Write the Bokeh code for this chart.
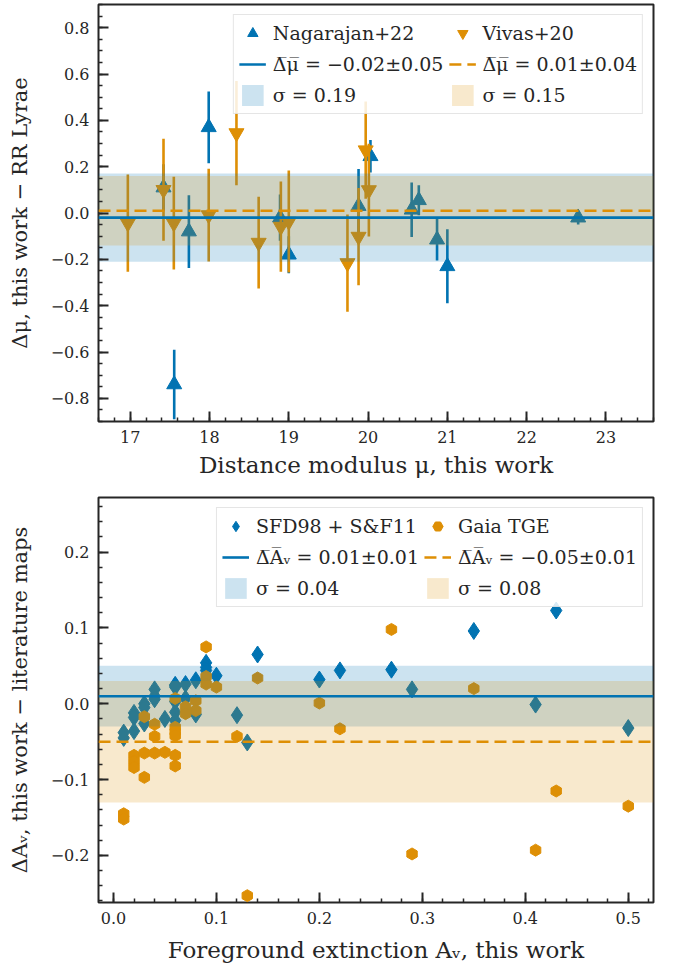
import numpy as np
from bokeh.plotting import figure
from bokeh.layouts import column
from bokeh.models import (Legend, LegendItem, SingleIntervalTicker,
                          CustomJSTickFormatter, Range1d)
from bokeh.embed import file_html
from bokeh.resources import INLINE

BLUE = "#0173b2"
ORANGE = "#de8f05"
INK = "#262626"
FONT = "DejaVu Serif"

# ---- distance-modulus comparison with RR Lyrae studies ----
nag_mu = [17.42, 17.555, 17.74, 17.99, 18.89, 19.00, 19.88, 20.03, 20.55, 20.64, 20.87, 21.00, 22.65]
nag_dmu = [0.11, -0.74, -0.08, 0.37, -0.02, -0.18, 0.03, 0.245, 0.014, 0.055, -0.115, -0.23, -0.02]
nag_err = [0.10, 0.15, 0.157, 0.155, 0.10, 0.08, 0.16, 0.07, 0.118, 0.065, 0.09, 0.16, 0.03]

viv_mu = [16.97, 17.42, 17.55, 17.99, 18.34, 18.62, 18.90, 19.00, 19.74, 19.88, 19.97, 20.01]
viv_dmu = [-0.044, 0.10, -0.044, -0.009, 0.345, -0.128, -0.059, -0.037, -0.216, -0.102, 0.271, 0.099]
viv_err = [0.21, 0.22, 0.20, 0.20, 0.225, 0.198, 0.195, 0.22, 0.21, 0.21, 0.21, 0.20]

nag_mean, nag_mean_err, nag_sigma = -0.02, 0.05, 0.19
viv_mean, viv_mean_err, viv_sigma = 0.01, 0.04, 0.15

MU_RANGE = (16.6, 23.6)
DMU_RANGE = (-0.9, 0.9)

# ---- foreground extinction comparison with dust maps ----
av = [0.01, 0.01, 0.02, 0.02, 0.02, 0.03, 0.03, 0.03, 0.04, 0.04, 0.04, 0.05,
      0.06, 0.06, 0.06, 0.06, 0.06, 0.06, 0.07, 0.07, 0.08, 0.08, 0.09, 0.09, 0.09,
      0.10, 0.12, 0.13, 0.14, 0.20, 0.22, 0.27, 0.29, 0.35, 0.41, 0.43, 0.50]
d_sfd = [-0.038, -0.045, -0.012, -0.018, -0.036, 0.000, -0.005, -0.026, 0.019, 0.010, 0.006, -0.020,
         0.025, 0.022, 0.003, -0.011, -0.022, 0.024, 0.026, 0.007, 0.031, -0.014, 0.054, 0.048, 0.044,
         0.037, -0.015, -0.051, 0.065, 0.032, 0.044, 0.045, 0.019, 0.096, -0.001, 0.123, -0.032]
d_gaia = [-0.145, -0.152, -0.068, -0.076, -0.084, -0.017, -0.065, -0.097, -0.027, -0.043, -0.065, -0.064,
          0.007, -0.031, -0.037, -0.042, -0.068, -0.082, -0.004, -0.013, 0.004, -0.009, 0.075, 0.036, 0.026,
          0.022, -0.043, -0.253, 0.034, 0.001, -0.033, 0.098, -0.198, 0.020, -0.193, -0.115, -0.135]

sfd_mean, sfd_mean_err, sfd_sigma = 0.01, 0.01, 0.04
gaia_mean, gaia_mean_err, gaia_sigma = -0.05, 0.01, 0.08

AV_RANGE = (-0.0145, 0.5245)
DAV_RANGE = (-0.262, 0.272)


def fmt(x, nd=2):
    s = f"{abs(x):.{nd}f}"
    return ("\u2212" + s) if x < 0 else s


def tick_formatter(digits):
    return CustomJSTickFormatter(code=f"""
        const v = Math.abs(tick) < 1e-9 ? 0 : tick;
        const s = Math.abs(v).toFixed({digits});
        return (v < 0 ? '\\u2212' : '') + s;
    """)


def style(p, xint, xminor, xdig, yint, yminor, ydig, xlabel, ylabel):
    p.xaxis.ticker = SingleIntervalTicker(interval=xint, num_minor_ticks=xminor)
    p.yaxis.ticker = SingleIntervalTicker(interval=yint, num_minor_ticks=yminor)
    p.xaxis.formatter = tick_formatter(xdig)
    p.yaxis.formatter = tick_formatter(ydig)
    p.xaxis.axis_label = xlabel
    p.yaxis.axis_label = ylabel
    for ax in (p.xaxis[0], p.yaxis[0]):
        ax.major_tick_in = 10
        ax.major_tick_out = 0
        ax.minor_tick_in = 4
        ax.minor_tick_out = 0
        ax.major_tick_line_width = 2
        ax.minor_tick_line_width = 1.5
        ax.major_tick_line_color = INK
        ax.minor_tick_line_color = INK
        ax.axis_line_color = None
        ax.major_label_text_font = FONT
        ax.major_label_text_font_size = "16px"
        ax.major_label_text_color = INK
        ax.axis_label_text_font = FONT
        ax.axis_label_text_font_style = "normal"
        ax.axis_label_text_color = INK
        ax.major_label_standoff = 9
    p.xaxis.axis_label_text_font_size = "23px"
    p.yaxis.axis_label_text_font_size = "21px"
    p.xaxis.axis_label_standoff = 6
    p.yaxis.axis_label_standoff = 16
    p.xgrid.visible = False
    p.ygrid.visible = False
    p.outline_line_color = INK
    p.outline_line_width = 2
    p.outline_line_alpha = 1.0
    p.background_fill_color = "white"
    p.border_fill_color = "white"


def band(p, xr, mean, sigma, color):
    return p.varea(x=list(xr), y1=[mean - sigma] * 2, y2=[mean + sigma] * 2,
                   fill_color=color, fill_alpha=0.2)


def add_legend(p, items):
    leg = Legend(items=items, location="top_right", orientation="vertical", ncols=2)
    leg.label_text_font = FONT
    leg.label_text_font_size = "19px"
    leg.label_text_color = INK
    leg.glyph_width = 27
    leg.glyph_height = 26
    leg.label_standoff = 7
    leg.spacing = 5
    leg.padding = 5
    leg.margin = 10
    leg.border_line_color = "#cccccc"
    leg.border_line_width = 1.5
    leg.background_fill_alpha = 0.85
    p.add_layout(leg)


# ================= top panel =================
p1 = figure(frame_width=555, frame_height=417, min_border_left=98, min_border_right=20,
            min_border_top=4, min_border_bottom=60,
            x_range=Range1d(*MU_RANGE), y_range=Range1d(*DMU_RANGE),
            output_backend="svg", toolbar_location=None)
style(p1, 1, 5, 0, 0.2, 4, 1, "Distance modulus \u03bc, this work",
      "\u0394\u03bc, this work \u2212 RR Lyrae")

n_lo = [y - e for y, e in zip(nag_dmu, nag_err)]
n_hi = [y + e for y, e in zip(nag_dmu, nag_err)]
v_lo = [y - e for y, e in zip(viv_dmu, viv_err)]
v_hi = [y + e for y, e in zip(viv_dmu, viv_err)]

p1.segment(x0=nag_mu, y0=n_lo, x1=nag_mu, y1=n_hi, line_color=BLUE, line_width=2.6)
r_nag = p1.scatter(nag_mu, nag_dmu, marker="triangle", size=15,
                   fill_color=BLUE, line_color=BLUE)
p1.segment(x0=viv_mu, y0=v_lo, x1=viv_mu, y1=v_hi, line_color=ORANGE, line_width=2.6)
r_viv = p1.scatter(viv_mu, viv_dmu, marker="inverted_triangle", size=15,
                   fill_color=ORANGE, line_color=ORANGE)

b_nag = band(p1, MU_RANGE, nag_mean, nag_sigma, BLUE)
b_viv = band(p1, MU_RANGE, viv_mean, viv_sigma, ORANGE)
l_nag = p1.line(list(MU_RANGE), [nag_mean] * 2, line_color=BLUE, line_width=2.6)
l_viv = p1.line(list(MU_RANGE), [viv_mean] * 2, line_color=ORANGE, line_width=2.6,
                line_dash="12 6")

bar = "\u0305"
add_legend(p1, [
    LegendItem(label="Nagarajan+22", renderers=[r_nag]),
    LegendItem(label=f"\u0394{bar}\u03bc{bar} = {fmt(nag_mean)}\u00b1{fmt(nag_mean_err)}", renderers=[l_nag]),
    LegendItem(label=f"\u03c3 = {fmt(nag_sigma)}", renderers=[b_nag]),
    LegendItem(label="Vivas+20", renderers=[r_viv]),
    LegendItem(label=f"\u0394{bar}\u03bc{bar} = {fmt(viv_mean)}\u00b1{fmt(viv_mean_err)}", renderers=[l_viv]),
    LegendItem(label=f"\u03c3 = {fmt(viv_sigma)}", renderers=[b_viv]),
])

# ================= bottom panel =================
p2 = figure(frame_width=555, frame_height=405, min_border_left=98, min_border_right=20,
            min_border_top=16, min_border_bottom=71,
            x_range=Range1d(*AV_RANGE), y_range=Range1d(*DAV_RANGE),
            output_backend="svg", toolbar_location=None)
style(p2, 0.1, 5, 1, 0.1, 5, 1, "Foreground extinction A\u1d65, this work",
      "\u0394A\u1d65, this work \u2212 literature maps")
p2.xaxis.axis_label_standoff = 10

r_sfd = p2.scatter(av, d_sfd, marker="diamond", size=17, fill_color=BLUE, line_color=BLUE)
r_gaia = p2.scatter(av, d_gaia, marker="hex", size=12, angle=np.pi / 6,
                    fill_color=ORANGE, line_color=ORANGE)

b_sfd = band(p2, AV_RANGE, sfd_mean, sfd_sigma, BLUE)
b_gaia = band(p2, AV_RANGE, gaia_mean, gaia_sigma, ORANGE)
l_sfd = p2.line(list(AV_RANGE), [sfd_mean] * 2, line_color=BLUE, line_width=2.6)
l_gaia = p2.line(list(AV_RANGE), [gaia_mean] * 2, line_color=ORANGE, line_width=2.6,
                 line_dash="12 6")

add_legend(p2, [
    LegendItem(label="SFD98 + S&F11", renderers=[r_sfd]),
    LegendItem(label=f"\u0394{bar}A{bar}\u1d65 = {fmt(sfd_mean)}\u00b1{fmt(sfd_mean_err)}", renderers=[l_sfd]),
    LegendItem(label=f"\u03c3 = {fmt(sfd_sigma)}", renderers=[b_sfd]),
    LegendItem(label="Gaia TGE", renderers=[r_gaia]),
    LegendItem(label=f"\u0394{bar}A{bar}\u1d65 = {fmt(gaia_mean)}\u00b1{fmt(gaia_mean_err)}", renderers=[l_gaia]),
    LegendItem(label=f"\u03c3 = {fmt(gaia_sigma)}", renderers=[b_gaia]),
])

layout = column(p1, p2, spacing=0)
open("out.html", "w").write(file_html(layout, INLINE))
